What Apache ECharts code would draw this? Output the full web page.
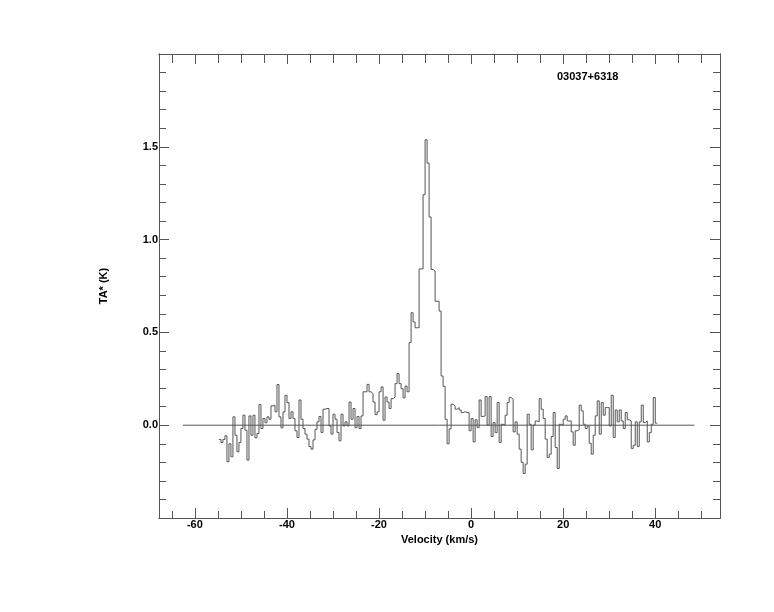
<!DOCTYPE html>
<html>
<head>
<meta charset="utf-8">
<script src="https://cdn.jsdelivr.net/npm/echarts/dist/echarts.min.js"></script>
<style>html,body{margin:0;padding:0;background:#fff}#c{width:774px;height:612px}</style>
</head>
<body>
<div id="c"></div>
<script>
// Spectrum: channel left-edge start velocity and channel width (km/s)
const velStart = -54.78;
const chanWidth = 0.4348;
// Antenna temperature per channel (K)
const taValues = [
-0.077,-0.093,-0.077,-0.057,-0.197,-0.100,-0.170,0.045,-0.054,-0.143,
-0.093,-0.018,0.054,-0.027,-0.188,0.050,-0.054,0.054,-0.068,-0.045,
0.111,-0.018,0.036,0.013,0.045,0.032,0.104,0.108,0.072,0.219,
0.045,-0.014,
0.072,0.161,0.122,0.036,0.072,0.036,-0.030,-0.066,
0.136,0.032,-0.018,-0.048,-0.075,-0.115,-0.129,-0.079,-0.022,0.018,
0.047,-0.039,0.086,0.090,0.090,-0.004,-0.048,0.059,0.032,-0.039,
-0.084,0.059,-0.004,0.018,-0.004,0.125,0.032,0.090,-0.013,0.047,
-0.018,0.050,0.180,0.180,0.220,0.180,
0.170,0.125,0.057,0.072,0.180,0.206,0.027,0.152,0.125,0.090,
0.143,0.152,0.224,0.278,0.224,0.197,0.147,0.211,0.180,
0.445,0.606,0.556,0.525,0.525,0.842,0.842,1.242,1.538,1.412,
1.122,0.839,0.830,0.668,0.668,0.615,0.265,0.210,0.032,-0.100,
-0.020,0.113,0.104,0.086,
0.095,0.082,0.068,0.073,0.068,0.068,-0.030,0.036,-0.090,0.029,
-0.013,0.136,0.047,0.050,0.154,0.000,0.154,-0.061,0.014,-0.040,
0.122,-0.093,0.005,0.000,0.054,0.122,0.149,0.140,-0.036,0.018,
-0.048,-0.129,-0.200,-0.260,-0.210,0.059,0.005,-0.133,0.000,0.023,
0.018,0.143,0.086,0.036,-0.075,-0.174,-0.156,-0.061,
0.068,-0.120,-0.233,0.005,0.000,0.032,0.050,0.023,0.023,-0.036,
-0.108,-0.030,-0.025,0.108,0.077,0.005,-0.018,-0.004,-0.097,-0.156,
-0.054,0.050,0.131,-0.048,0.122,0.054,0.095,0.095,-0.004,0.161,
-0.066,0.082,0.018,0.082,0.023,-0.018,0.068,0.029,0.023,-0.125,
-0.108,0.018,-0.115,0.018,0.108,0.014,0.023,-0.090,-0.040,0.005,
0.149,0.011
];
// Baseline segment (km/s)
const baselineRange = [-62.6, 48.5];
// Axis ranges and ticks
const xRange = [-67.8, 54.07];
const yRange = [-0.5, 2.0];
const xMajorTicks = [-60, -40, -20, 0, 20, 40];
const xMinorTicks = [-65, -55, -50, -45, -35, -30, -25, -15, -10, -5, 5, 10, 15, 25, 30, 35, 45, 50];
const yMajorTicks = [0, 0.5, 1.0, 1.5];
const yMinorTicks = [-0.4, -0.3, -0.2, -0.1, 0.1, 0.2, 0.3, 0.4, 0.6, 0.7, 0.8, 0.9, 1.1, 1.2, 1.3, 1.4, 1.6, 1.7, 1.8, 1.9];
const sourceName = '03037+6318';

const stepData = taValues.map((v, i) => [velStart + i * chanWidth, v]);
stepData.push([velStart + taValues.length * chanWidth, taValues[taValues.length - 1]]);

const lc = '#555';
const font = 'Liberation Sans, Arial, sans-serif';
function xAx(pos, ticks, len, labels, name) {
  return {
    type: 'value', position: pos, min: xRange[0], max: xRange[1],
    axisLine: { show: true, onZero: false, lineStyle: { color: lc, width: 1 } },
    axisTick: { show: true, inside: true, length: len, customValues: ticks, lineStyle: { color: lc, width: 1 } },
    axisLabel: labels ? { show: true, customValues: ticks, margin: 1, color: '#000', fontSize: 11, fontWeight: 'bold', fontFamily: font } : { show: false },
    splitLine: { show: false },
    name: name || '', nameLocation: 'middle', nameGap: 9,
    nameTextStyle: { color: '#000', fontSize: 11, fontWeight: 'bold', fontFamily: font }
  };
}
function yAx(pos, ticks, len, labels, name) {
  return {
    type: 'value', position: pos, min: yRange[0], max: yRange[1],
    axisLine: { show: true, onZero: false, lineStyle: { color: lc, width: 1 } },
    axisTick: { show: true, inside: true, length: len, customValues: ticks, lineStyle: { color: lc, width: 1 } },
    axisLabel: labels ? { show: true, customValues: ticks, margin: 1, color: '#000', fontSize: 11, fontWeight: 'bold', fontFamily: font, formatter: v => v.toFixed(1) } : { show: false },
    splitLine: { show: false },
    name: name || '', nameLocation: 'middle', nameGap: 50, nameRotate: 90,
    nameTextStyle: { color: '#000', fontSize: 11, fontWeight: 'bold', fontFamily: font }
  };
}

const chart = echarts.init(document.getElementById('c'), null, { renderer: 'canvas' });
chart.setOption({
  animation: false,
  backgroundColor: '#fff',
  title: { text: sourceName, left: 552, top: 66, textStyle: { color: '#000', fontSize: 11, fontWeight: 'bold', fontFamily: font } },
  grid: { left: 159, right: 54, top: 54, bottom: 94, containLabel: false },
  xAxis: [
    xAx('bottom', xMajorTicks, 10, true, 'Velocity (km/s)'),
    xAx('bottom', xMinorTicks, 7, false),
    xAx('top', xMajorTicks, 10, false),
    xAx('top', xMinorTicks, 9, false)
  ],
  yAxis: [
    yAx('left', yMajorTicks, 10, true, 'TA* (K)'),
    yAx('left', yMinorTicks, 7, false),
    yAx('right', yMajorTicks, 10, false),
    yAx('right', yMinorTicks, 7, false)
  ],
  series: [
    { type: 'line', xAxisIndex: 0, yAxisIndex: 0, data: [[baselineRange[0], 0], [baselineRange[1], 0]], symbol: 'none', lineStyle: { color: lc, width: 1 }, silent: true },
    { type: 'line', xAxisIndex: 0, yAxisIndex: 0, step: 'end', data: stepData, symbol: 'none', lineStyle: { color: lc, width: 1 }, silent: true }
  ]
});
</script>
</body>
</html>
